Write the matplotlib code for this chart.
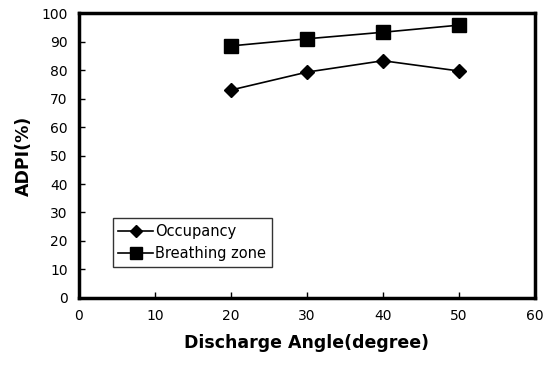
import matplotlib
matplotlib.use("Agg")
import matplotlib.pyplot as plt

angles = [20, 30, 40, 50]
occupancy = [73, 79.3, 83.3, 79.7]
breathing = [88.5, 91, 93.3, 95.8]
xticks = [0, 10, 20, 30, 40, 50, 60]
yticks = [0, 10, 20, 30, 40, 50, 60, 70, 80, 90, 100]

plt.rcParams['font.family'] = ['DejaVu Sans']
fig = plt.figure(figsize=(5.55, 3.66), dpi=100)
ax = fig.add_axes([0.142, 0.186, 0.822, 0.778])

ax.plot(angles, occupancy, color='black', lw=1.2, marker='D', ms=7, label='Occupancy')
ax.plot(angles, breathing, color='black', lw=1.2, marker='s', ms=10, label='Breathing zone')

ax.set_xlim(0, 60)
ax.set_ylim(0, 100)
ax.set_xticks(xticks)
ax.set_yticks(yticks)
ax.tick_params(direction='in', length=4, width=1, labelsize=10, pad=8)
for s in ax.spines.values():
    s.set_linewidth(2.5)

ax.set_xlabel('Discharge Angle(degree)', fontsize=12.5, fontweight='bold', labelpad=8)
ax.set_ylabel('ADPI(%)', fontsize=12.5, fontweight='bold', labelpad=6)

leg = ax.legend(loc='upper left', bbox_to_anchor=(0.058, 0.305), frameon=True, fancybox=False,
                edgecolor='black', fontsize=10.5, handlelength=2.4, borderpad=0.4, labelspacing=0.5,
                handletextpad=0.1, markerscale=0.85)
leg.get_frame().set_linewidth(1)

fig.savefig('out.png', dpi=100)
